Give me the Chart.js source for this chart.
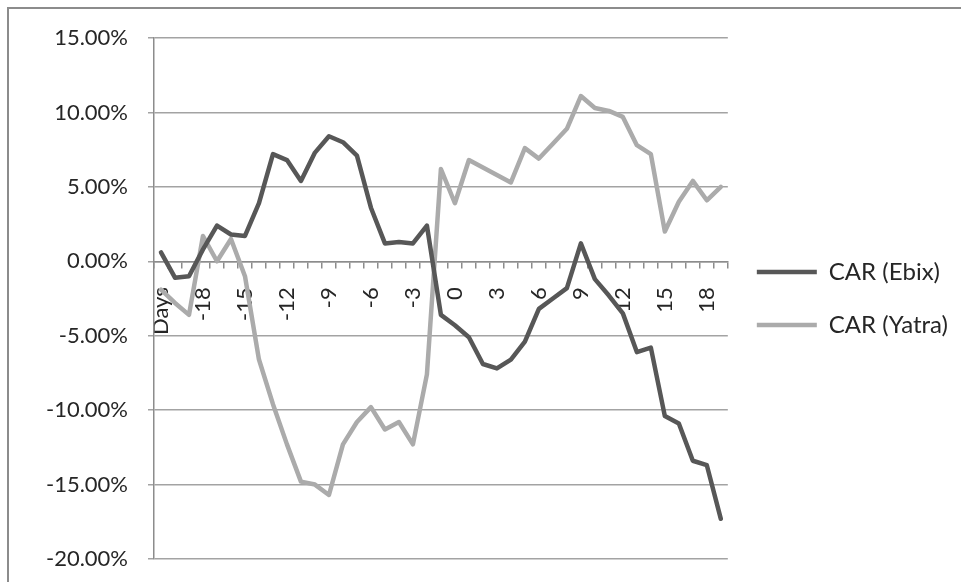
<!DOCTYPE html>
<html>
<head>
<meta charset="utf-8">
<title>CAR (Ebix) vs CAR (Yatra)</title>
<script src="https://cdn.jsdelivr.net/npm/chart.js@4.4.0/dist/chart.umd.min.js"></script>
<style>
  html, body { margin: 0; padding: 0; background: #fff; }
  #wrap { position: relative; width: 961px; height: 582px; overflow: hidden; }
  #frame { position: absolute; left: 7px; top: 7px; right: -5px; bottom: -5px;
           border-left: 2px solid #8c8c8c; border-top: 2px solid #8c8c8c; pointer-events: none; }
  canvas { position: absolute; left: 0; top: 0; }
</style>
</head>
<body>
<div id="wrap">
  <canvas id="chart" width="961" height="582"></canvas>
  <div id="frame"></div>
</div>
<script>
// categories (event window in days)
var days = ['Days', '-20', '-19', '-18', '-17', '-16', '-15', '-14', '-13', '-12', '-11',
            '-10', '-9', '-8', '-7', '-6', '-5', '-4', '-3', '-2', '-1',
            '0', '1', '2', '3', '4', '5', '6', '7', '8', '9',
            '10', '11', '12', '13', '14', '15', '16', '17', '18', '19'];

// cumulative abnormal returns, in percent
var carEbix = [0.6, -1.1, -1.0, 0.8, 2.4, 1.8, 1.7, 3.9, 7.2, 6.8, 5.4,
               7.3, 8.4, 8.0, 7.1, 3.6, 1.2, 1.3, 1.2, 2.4, -3.6,
               -4.3, -5.1, -6.9, -7.2, -6.6, -5.4, -3.2, -2.5, -1.8, 1.2,
               -1.2, -2.3, -3.5, -6.1, -5.8, -10.4, -10.9, -13.4, -13.7, -17.3];

var carYatra = [-1.9, -2.8, -3.6, 1.7, 0.0, 1.5, -1.0, -6.6, -9.6, -12.3, -14.8,
                -15.0, -15.7, -12.3, -10.8, -9.8, -11.3, -10.8, -12.3, -7.6, 6.2,
                3.9, 6.8, 6.3, 5.8, 5.3, 7.6, 6.9, 7.9, 8.9, 11.1,
                10.3, 10.1, 9.7, 7.8, 7.2, 2.0, 4.0, 5.4, 4.1, 5.0];

var yMin = -20, yMax = 15, yStep = 5;

var axisGray = '#8c8c8c';
var gridGray = '#a3a3a3';
var textColor = '#262626';

var ctx = document.getElementById('chart').getContext('2d');
new Chart(ctx, {
    type: 'line',
    data: {
        labels: days,
        datasets: [
            {
                label: 'CAR (Ebix)',
                data: carEbix,
                borderColor: '#575757',
                backgroundColor: '#575757',
                borderWidth: 4.5,
                pointRadius: 0,
                tension: 0,
                borderJoinStyle: 'round',
                borderCapStyle: 'round'
            },
            {
                label: 'CAR (Yatra)',
                data: carYatra,
                borderColor: '#ababab',
                backgroundColor: '#ababab',
                borderWidth: 4.5,
                pointRadius: 0,
                tension: 0,
                borderJoinStyle: 'round',
                borderCapStyle: 'round'
            }
        ]
    },
    options: {
        responsive: false,
        animation: false,
        layout: { padding: { left: 0, right: 3, top: 38, bottom: 23 } },
        plugins: {
            tooltip: { enabled: false },
            legend: {
                position: 'right',
                labels: {
                    usePointStyle: true,
                    pointStyle: 'line',
                    pointStyleWidth: 60,
                    padding: 29,
                    color: textColor,
                    font: { family: 'Lato', size: 24 }
                }
            }
        },
        scales: {
            x: {
                type: 'category',
                position: { y: 0 },
                offset: true,
                grid: {
                    offset: true,
                    drawOnChartArea: false,
                    drawTicks: true,
                    tickLength: 6,
                    color: axisGray,
                    lineWidth: 1.5
                },
                border: { display: true, color: axisGray, width: 1.5 },
                ticks: {
                    autoSkip: false,
                    minRotation: 90,
                    maxRotation: 90,
                    padding: 20,
                    color: textColor,
                    font: { family: 'Lato', size: 22 },
                    callback: function (value, index) {
                        // Excel shows every third day label
                        return index % 3 === 0 ? days[index] : '';
                    }
                },
                afterFit: function (scale) {
                    // axis sits on the zero line, so it takes no layout room
                    scale.height = 0;
                    scale.paddingLeft = 0;
                    scale.paddingRight = 0;
                }
            },
            y: {
                min: yMin,
                max: yMax,
                grid: {
                    color: gridGray,
                    lineWidth: 1.5,
                    drawTicks: true,
                    tickLength: 6
                },
                border: { display: true, color: axisGray, width: 1.5 },
                ticks: {
                    stepSize: yStep,
                    padding: 20,
                    color: textColor,
                    font: { family: 'Lato', size: 22 },
                    callback: function (v) { return v.toFixed(2) + '%'; }
                },
                afterFit: function (scale) {
                    scale.width = 154;
                    scale.paddingTop = 0;
                    scale.paddingBottom = 0;
                }
            }
        }
    }
});
</script>
</body>
</html>
